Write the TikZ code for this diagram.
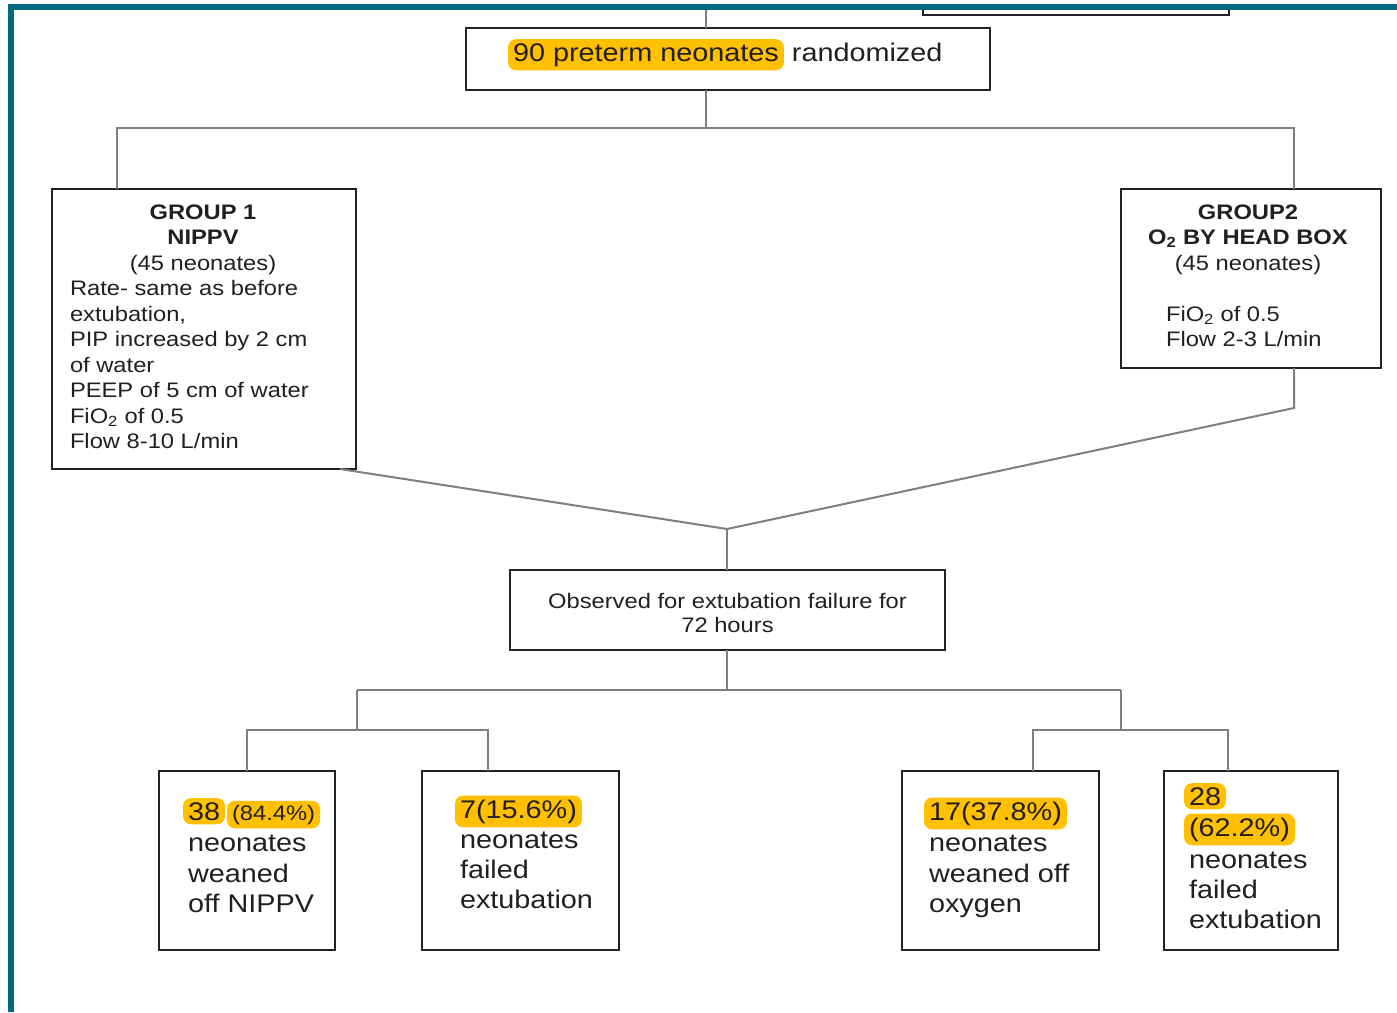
\documentclass[tikz,border=0pt]{standalone}
\usepackage{fontspec}
\setmainfont{Liberation Sans}[FakeStretch=1.13]
\definecolor{frameteal}{HTML}{006A80}
\definecolor{hlorange}{HTML}{FFC000}
\definecolor{inkc}{HTML}{231F20}
\definecolor{connc}{HTML}{7F7F7F}
\definecolor{boxc}{HTML}{222222}
\tikzset{
  boxnode/.style={draw=boxc, line width=2pt, inner sep=0pt, outer sep=0pt, rectangle},
  conn/.style={draw=connc, line width=2pt},
  txt/.style={inner sep=0pt, outer sep=0pt, text=inkc, font=\fontsize{21}{25.5}\selectfont},
  bigtxt/.style={inner sep=0pt, outer sep=0pt, text=inkc, font=\fontsize{25.5}{30.5}\selectfont},
  hl/.style={fill=hlorange, rounded corners=8pt, inner xsep=5pt, inner ysep=4pt, outer sep=0pt}
}
\begin{document}
\begin{tikzpicture}[x=1pt,y=-1pt]
\useasboundingbox (0,0) rectangle (1397,1012);
\fill[white] (0,0) rectangle (1397,1012);

% boxes
\node[boxnode, minimum width=524pt, minimum height=62pt] (title) at (728,59) {};
\node[boxnode, minimum width=304pt, minimum height=280pt] (g1) at (204,329) {};
\node[boxnode, minimum width=260pt, minimum height=179pt] (g2) at (1251,278.5) {};
\node[boxnode, minimum width=435pt, minimum height=80pt] (obs) at (727.5,610) {};
\node[boxnode, minimum width=176pt, minimum height=179pt] (ra) at (247,860.5) {};
\node[boxnode, minimum width=197pt, minimum height=179pt] (rb) at (520.5,860.5) {};
\node[boxnode, minimum width=197pt, minimum height=179pt] (rc) at (1000.5,860.5) {};
\node[boxnode, minimum width=174pt, minimum height=179pt] (rd) at (1251,860.5) {};

% partial box at the top right
\draw[draw=boxc, line width=2pt] (923,8) -- (923,15) -- (1229,15) -- (1229,8);

% junction coordinates
\coordinate (topin) at (706,8);
\coordinate (sp1) at (706,128);
\coordinate (sp1l) at (117,128);
\coordinate (sp1r) at (1294,128);
\coordinate (bend2) at (1294,408);
\coordinate (merge) at (727,529);
\coordinate (sp2) at (727,690);
\coordinate (sp2l) at (357,690);
\coordinate (sp2r) at (1121,690);
\coordinate (sp3a) at (247,730);
\coordinate (sp3b) at (488,730);
\coordinate (sp3c) at (1033,730);
\coordinate (sp3d) at (1228,730);

% connectors
\draw[conn] (topin) -- (topin |- title.north);
\draw[conn] (topin |- title.south) -- (sp1);
\draw[conn] (sp1l |- g1.north) -- (sp1l) -- (sp1r) -- (sp1r |- g2.north);
\draw[conn] (sp1r |- g2.south) -- (bend2) -- (merge);
\draw[conn] ([xshift=-16pt]g1.south east) -- (merge);
\draw[conn] (merge) -- (obs.north -| merge);
\draw[conn] (obs.south -| merge) -- (sp2);
\draw[conn] (sp2l) -- (sp2r);
\draw[conn] (sp2l) -- (sp2l |- sp3a);
\draw[conn] (sp2r) -- (sp2r |- sp3c);
\draw[conn] (sp3a |- ra.north) -- (sp3a) -- (sp3b) -- (sp3b |- rb.north);
\draw[conn] (sp3c |- rc.north) -- (sp3c) -- (sp3d) -- (sp3d |- rd.north);

% title text
\node[bigtxt, hl, anchor=base west] (t1) at (508,61) {90 preterm neonates};
\node[bigtxt, anchor=base west] (t2) at ([xshift=8pt]t1.base east) {randomized};

% group 1
\node[txt, anchor=base, font=\fontsize{21}{25.5}\selectfont\bfseries] (g1a) at (203,219) {GROUP 1};
\node[txt, anchor=base, font=\fontsize{21}{25.5}\selectfont\bfseries] (g1b) at (203,244.5) {NIPPV};
\node[txt, anchor=base] (g1c) at (203,270) {(45 neonates)};
\node[txt, anchor=base west] (g1d) at (70,295.5) {Rate- same as before};
\node[txt, anchor=base west] (g1e) at (70,321) {extubation,};
\node[txt, anchor=base west] (g1f) at (70,346.5) {PIP increased by 2 cm};
\node[txt, anchor=base west] (g1g) at (70,372) {of water};
\node[txt, anchor=base west] (g1h) at (70,397.5) {PEEP of 5 cm of water};
\node[txt, anchor=base west] (g1i) at (70,423) {FiO\textsubscript{2} of 0.5};
\node[txt, anchor=base west] (g1j) at (70,448.5) {Flow 8-10 L/min};

% group 2
\node[txt, anchor=base, font=\fontsize{21}{25.5}\selectfont\bfseries] (g2a) at (1248,219) {GROUP2};
\node[txt, anchor=base, font=\fontsize{21}{25.5}\selectfont\bfseries] (g2b) at (1248,244.5) {O\textsubscript{2} BY HEAD BOX};
\node[txt, anchor=base] (g2c) at (1248,270) {(45 neonates)};
\node[txt, anchor=base west] (g2d) at (1166,321) {FiO\textsubscript{2} of 0.5};
\node[txt, anchor=base west] (g2e) at (1166,346.5) {Flow 2-3 L/min};

% observed
\node[txt, anchor=base] (o1) at (727.5,608) {Observed for extubation failure for};
\node[txt, anchor=base] (o2) at (727.5,632) {72 hours};

% result A
\node[bigtxt, hl, anchor=base west] (a1) at (183,820) {38};
\node[txt, hl, anchor=base west] (a2) at ([xshift=2pt]a1.base east) {(84.4\%)};
\node[bigtxt, anchor=base west] (a3) at (188,851.5) {neonates};
\node[bigtxt, anchor=base west] (a4) at (188,882) {weaned};
\node[bigtxt, anchor=base west] (a5) at (188,912.5) {off NIPPV};

% result B
\node[bigtxt, hl, anchor=base west] (b1) at (455,818) {7(15.6\%)};
\node[bigtxt, anchor=base west] (b2) at (460,848.5) {neonates};
\node[bigtxt, anchor=base west] (b3) at (460,878.5) {failed};
\node[bigtxt, anchor=base west] (b4) at (460,908.5) {extubation};

% result C
\node[bigtxt, hl, anchor=base west] (c1) at (924,820) {17(37.8\%)};
\node[bigtxt, anchor=base west] (c2) at (929,851.5) {neonates};
\node[bigtxt, anchor=base west] (c3) at (929,882) {weaned off};
\node[bigtxt, anchor=base west] (c4) at (929,912.5) {oxygen};

% result D
\node[bigtxt, hl, anchor=base west] (d1) at (1184,805) {28};
\node[bigtxt, hl, anchor=base west] (d2) at (1184,836) {(62.2\%)};
\node[bigtxt, anchor=base west] (d3) at (1189,868) {neonates};
\node[bigtxt, anchor=base west] (d4) at (1189,898) {failed};
\node[bigtxt, anchor=base west] (d5) at (1189,928) {extubation};

% frame
\fill[frameteal] (8,4) rectangle (1397,10);
\fill[frameteal] (8,4) rectangle (14,1012);
\end{tikzpicture}
\end{document}
